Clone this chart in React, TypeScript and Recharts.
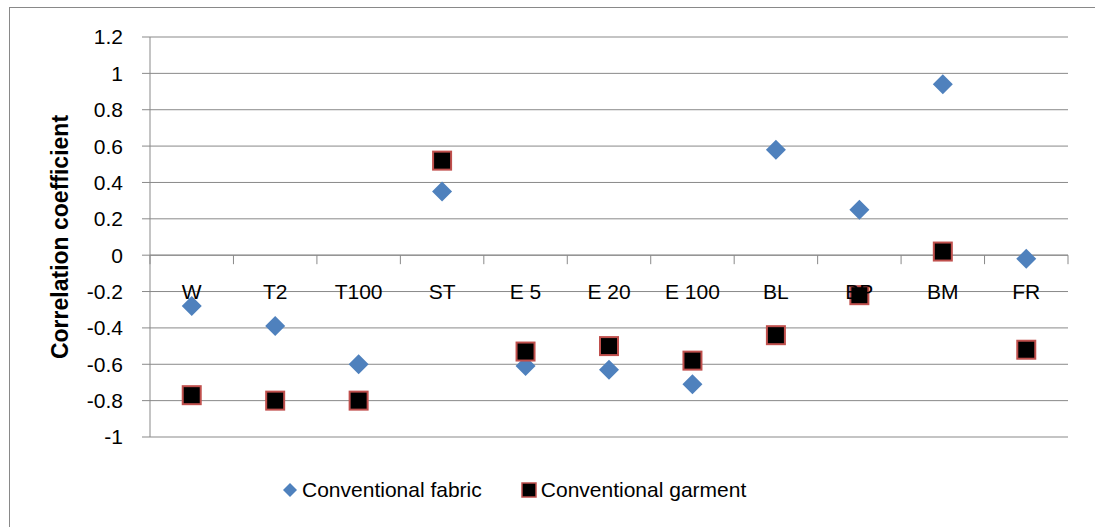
import React from 'react';
import { ComposedChart, Line, XAxis, YAxis, CartesianGrid, ReferenceLine, Label } from 'recharts';

const categories = ['W', 'T2', 'T100', 'ST', 'E 5', 'E 20', 'E 100', 'BL', 'BP', 'BM', 'FR'];
const fabric = [-0.28, -0.39, -0.6, 0.35, -0.61, -0.63, -0.71, 0.58, 0.25, 0.94, -0.02];
const garment = [-0.77, -0.8, -0.8, 0.52, -0.53, -0.5, -0.58, -0.44, -0.22, 0.02, -0.52];
const yTicks = [-1, -0.8, -0.6, -0.4, -0.2, 0, 0.2, 0.4, 0.6, 0.8, 1, 1.2];

const chartData = categories.map((cat, i) => ({ cat, fabric: fabric[i], garment: garment[i] }));

const W = 1095;
const H = 527;
const MARGIN = { top: 37, right: 27, bottom: 0, left: 0 };
const Y_AXIS_W = 150;
const X_AXIS_H = 90;
const PLOT_W = W - MARGIN.left - MARGIN.right - Y_AXIS_W;
const PLOT_H = H - MARGIN.top - MARGIN.bottom - X_AXIS_H;
const Y_MIN = -1;
const Y_MAX = 1.2;
const ZERO_Y = MARGIN.top + (PLOT_H * Y_MAX) / (Y_MAX - Y_MIN);

const FONT = '"Liberation Sans", Arial, sans-serif';
const FS = 21;
const GREY = '#898989';
const BLUE = '#4f81bd';
const RED = '#c0504d';

const diamond = (props: any) => {
  const { cx, cy, key } = props;
  if (cx == null || cy == null) return <g key={key} />;
  const r = 10;
  return <polygon key={key} points={`${cx},${cy - r} ${cx + r},${cy} ${cx},${cy + r} ${cx - r},${cy}`} fill={BLUE} />;
};

const square = (props: any) => {
  const { cx, cy, key } = props;
  if (cx == null || cy == null) return <g key={key} />;
  const s = 18;
  return <rect key={key} x={cx - s / 2} y={cy - s / 2} width={s} height={s} fill="#000" stroke={RED} strokeWidth={2} />;
};

// category labels sit under the zero line, like Excel's axis crossing at 0
const CategoryTick = (props: any) => {
  const { x, index, payload } = props;
  const band = PLOT_W / categories.length;
  return (
    <g>
      <line x1={x - band / 2} x2={x - band / 2} y1={ZERO_Y} y2={ZERO_Y + 9} stroke={GREY} />
      {index === categories.length - 1 && (
        <line x1={x + band / 2} x2={x + band / 2} y1={ZERO_Y} y2={ZERO_Y + 9} stroke={GREY} />
      )}
      <text x={x} y={ZERO_Y + 36} textAnchor="middle" dominantBaseline="central" fontSize={FS} fontFamily={FONT} fill="#000">
        {payload.value}
      </text>
    </g>
  );
};

const LegendBox = () => (
  <div style={{ position: 'absolute', left: 282, top: 478, display: 'flex', alignItems: 'center', fontFamily: FONT, fontSize: FS, color: '#000' }}>
    <svg width={16} height={16} style={{ marginRight: 4 }}>
      <polygon points="8,1 15,8 8,15 1,8" fill={BLUE} />
    </svg>
    <span style={{ marginRight: 39 }}>Conventional fabric</span>
    <svg width={16} height={16} style={{ marginRight: 4 }}>
      <rect x={1} y={1} width={14} height={14} fill="#000" stroke={RED} strokeWidth={1.5} />
    </svg>
    <span>Conventional garment</span>
  </div>
);

export default function App() {
  return (
    <div style={{ position: 'absolute', left: 0, top: 0, width: W, height: H, overflow: 'hidden', background: '#fff' }}>
      <div style={{ position: 'absolute', left: 9, top: 7, width: 1200, height: 700, border: `1px solid ${GREY}` }} />
      <ComposedChart width={W} height={H} data={chartData} margin={MARGIN} style={{ position: 'absolute', left: 0, top: 0 }}>
        <CartesianGrid vertical={false} stroke={GREY} />
        <XAxis
          dataKey="cat"
          scale="band"
          interval={0}
          height={X_AXIS_H}
          axisLine={false}
          tickLine={false}
          tick={<CategoryTick />}
        />
        <YAxis
          type="number"
          domain={[Y_MIN, Y_MAX]}
          ticks={yTicks}
          interval={0}
          width={Y_AXIS_W}
          tickSize={8}
          tickMargin={19}
          stroke={GREY}
          tick={{ fill: '#000', fontSize: FS, fontFamily: FONT }}
          tickFormatter={(v: number) => String(Math.round(v * 10) / 10)}
        >
          <Label
            content={(p: any) => {
              const vb = p.viewBox || { x: 0, y: MARGIN.top, width: Y_AXIS_W, height: PLOT_H };
              const cx = vb.x + 60;
              const cy = vb.y + vb.height / 2;
              return (
                <text x={cx} y={cy} transform={`rotate(-90 ${cx} ${cy})`} textAnchor="middle" dominantBaseline="central" fontSize={23} fontWeight="bold" fontFamily={FONT} fill="#000">
                  Correlation coefficient
                </text>
              );
            }}
          />
        </YAxis>
        <ReferenceLine y={0} stroke={GREY} />
        <Line dataKey="fabric" stroke="none" dot={diamond} activeDot={false} isAnimationActive={false} legendType="none" />
        <Line dataKey="garment" stroke="none" dot={square} activeDot={false} isAnimationActive={false} legendType="none" />
      </ComposedChart>
      <LegendBox />
    </div>
  );
}
